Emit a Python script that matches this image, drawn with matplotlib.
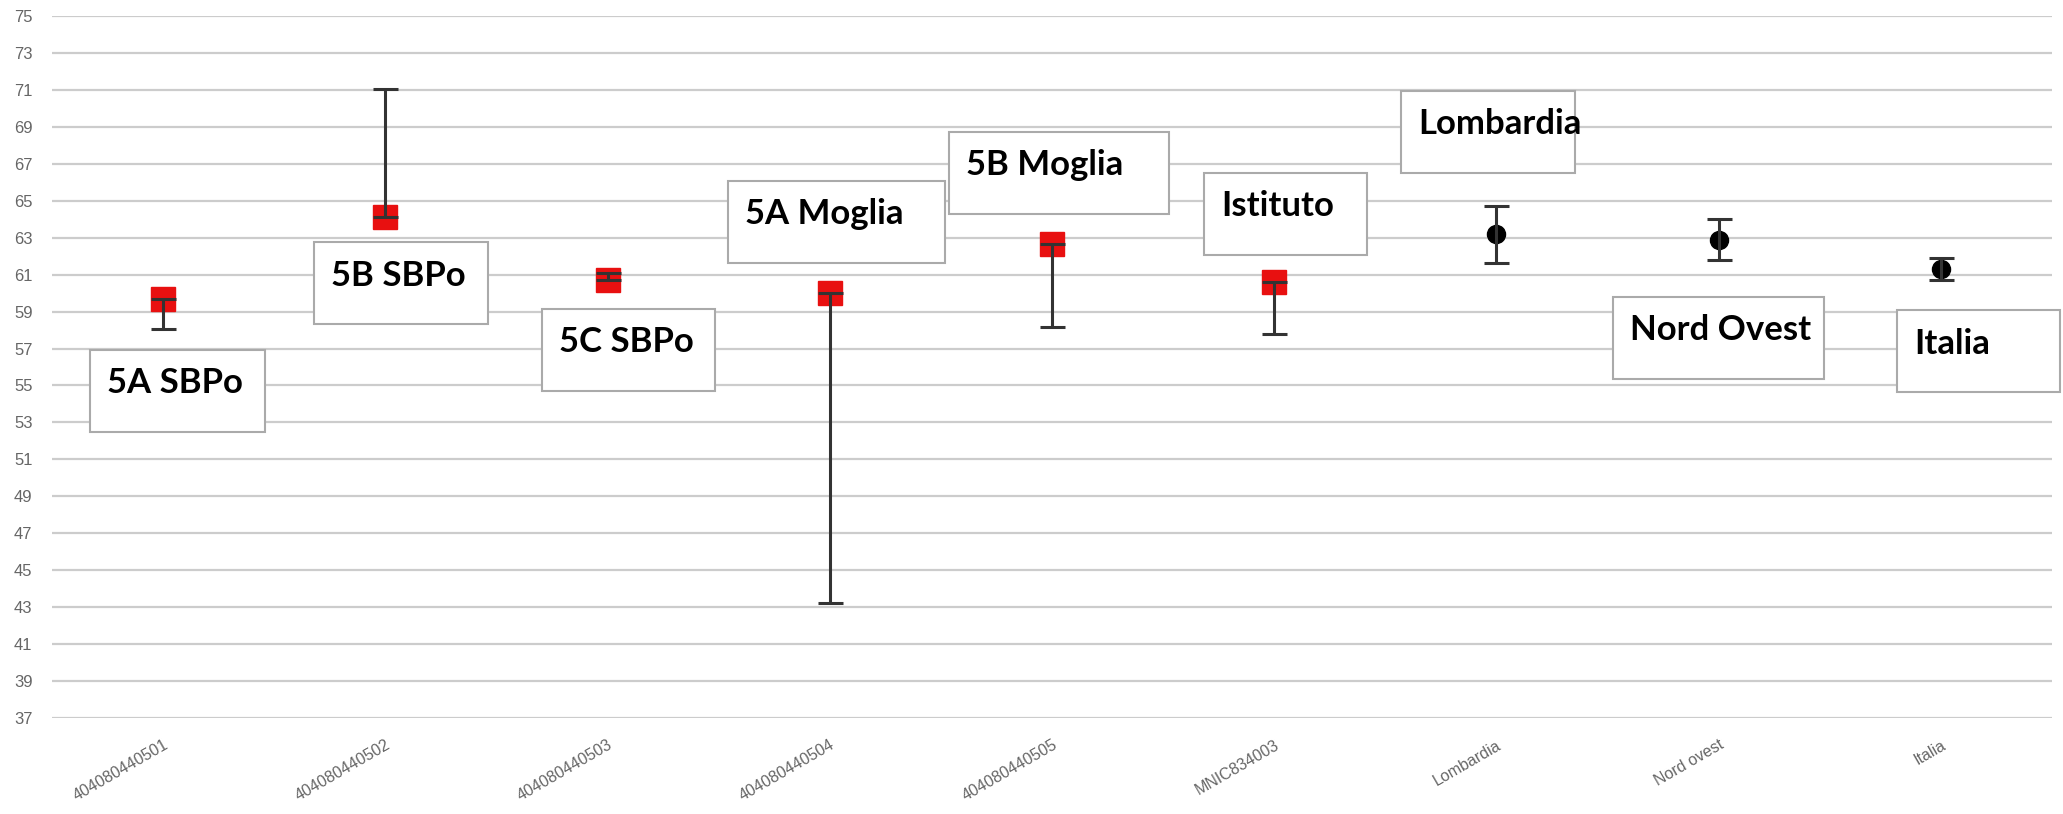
import matplotlib
matplotlib.use("Agg")
import matplotlib.pyplot as plt
from matplotlib.patches import Rectangle

# categories and interval data
categories = ["404080440501", "404080440502", "404080440503", "404080440504",
              "404080440505", "MNIC834003", "Lombardia", "Nord ovest", "Italia"]
values = [59.7, 64.1, 60.7, 60.0, 62.65, 60.6, 63.2, 62.9, 61.3]
lower = [58.05, 64.1, 60.7, 43.2, 58.15, 57.8, 61.65, 61.8, 60.7]
upper = [59.7, 71.05, 61.1, 60.0, 62.65, 60.6, 64.7, 64.0, 61.9]
is_school = [True, True, True, True, True, True, False, False, False]

box_texts = ["5A SBPo", "5B SBPo", "5C SBPo", "5A Moglia", "5B Moglia",
             "Istituto", "Lombardia", "Nord Ovest", "Italia"]
yticks = list(range(37, 76, 2))

# callout boxes: (left x, top y, width) in data units
box_pos = [(-0.329, 56.92, 0.788), (0.679, 62.76, 0.783), (1.705, 59.14, 0.779),
           (2.542, 66.07, 0.977), (3.537, 68.72, 0.99), (4.684, 66.5, 0.734),
           (5.571, 70.94, 0.783), (6.525, 59.79, 0.95), (7.803, 59.08, 0.734)]
box_h = 4.44

fig = plt.figure(figsize=(20.63, 8.14), dpi=100)
ax = fig.add_axes([52 / 2063, 96 / 814, 2000 / 2063, 702 / 814])

ax.set_xlim(-0.5, len(categories) - 0.5)
ax.set_ylim(37, 75)
ax.set_yticks(yticks)
ax.grid(axis="y", color="#cccccc", linewidth=1.6, zorder=0)
ax.set_axisbelow(True)
for s in ax.spines.values():
    s.set_visible(False)

x = list(range(len(categories)))
for i in x:
    err = [[values[i] - lower[i]], [upper[i] - values[i]]]
    if is_school[i]:
        ax.plot(i, values[i], marker="s", ms=17, color="#e81010", zorder=3, ls="none")
    else:
        ax.plot(i, values[i], marker="o", ms=13, color="black", zorder=3, ls="none")
    ax.errorbar(i, values[i], yerr=err, fmt="none", ecolor="#333333",
                elinewidth=2.2, capsize=9, capthick=2.2, zorder=4)

for (bx, by, bw), t in zip(box_pos, box_texts):
    ax.add_patch(Rectangle((bx, by - box_h), bw, box_h, facecolor="white",
                           edgecolor="#aaaaaa", linewidth=1.5, zorder=5, clip_on=False))
    ax.text(bx + 0.078, by - 2.35, t, fontsize=25, fontweight="bold",
            family="Lato", va="baseline", ha="left", zorder=6, clip_on=False)

ax.set_xticks(x)
ax.set_xticklabels(categories, rotation=30, ha="right", rotation_mode="anchor",
                   fontsize=11.5, color="#666666", family="Liberation Sans")
ax.tick_params(axis="x", length=0, pad=14)
ax.tick_params(axis="y", length=0, pad=14, labelsize=12, labelcolor="#666666")
for lbl in ax.get_yticklabels():
    lbl.set_family("Liberation Sans")

fig.savefig("out.png", dpi=100)
